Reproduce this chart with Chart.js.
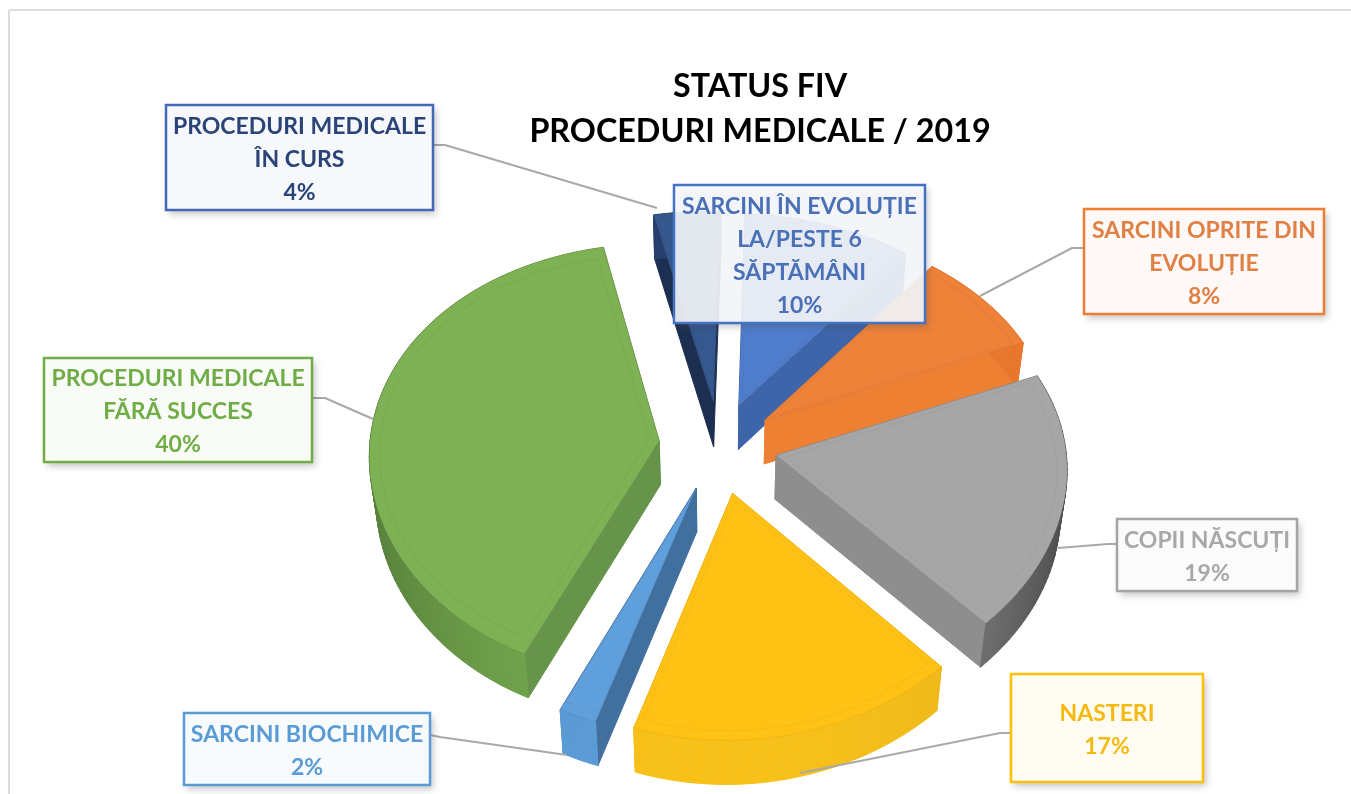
<!DOCTYPE html>
<html><head><meta charset="utf-8">
<style>html,body{margin:0;padding:0;background:#fff;overflow:hidden}
#wrap{position:absolute;left:0;top:0;width:1351px;height:794px;overflow:hidden}
#frame{position:absolute;left:8px;top:9px;width:1400px;height:850px;border:2px solid #dcdcdc;border-radius:3px;box-sizing:border-box}
canvas{position:absolute;left:0;top:0}</style>
<script src="https://cdn.jsdelivr.net/npm/chart.js@4/dist/chart.umd.min.js"></script>
</head><body><div id="wrap"><div id="frame"></div><canvas id="c" width="1351" height="794"></canvas></div>
<script>
const categories = ["SARCINI ÎN EVOLUȚIE LA/PESTE 6 SĂPTĂMÂNI","SARCINI OPRITE DIN EVOLUȚIE","COPII NĂSCUȚI","NASTERI","SARCINI BIOCHIMICE","PROCEDURI MEDICALE FĂRĂ SUCCES","PROCEDURI MEDICALE ÎN CURS"];
const values = [10,8,19,17,2,40,4];
const titleLines = ["STATUS FIV","PROCEDURI MEDICALE / 2019"];
const labelLines = [["SARCINI ÎN EVOLUȚIE","LA/PESTE 6","SĂPTĂMÂNI"],["SARCINI OPRITE DIN","EVOLUȚIE"],["COPII NĂSCUȚI"],["NASTERI"],["SARCINI BIOCHIMICE"],["PROCEDURI MEDICALE","FĂRĂ SUCCES"],["PROCEDURI MEDICALE","ÎN CURS"]];
const explode = [52,52,52,56,52,52,52];
const topColors = ["#4f7dcc","#ee8239","#a6a6a6","#ffc114","#5f9fdb","#7db154","#35588f"];
const cutColors = ["#3e65aa","#ee8034","#8e8e8e","#f4bb18","#41709f","#66944a","#1d2f50"];
const rimLight  = ["#4168b2","#ed7d31","#8f8f8f","#f8c119","#5b9bd5","#74a84d","#27406e"];
const rimDark   = ["#3a5ea0","#e6762c","#4c4c4c","#e6b31c","#5b9bd5","#567f3a","#1d2f50"];
const borderColors = ["#4472c4","#ed7d31","#a5a5a5","#ffc000","#5b9bd5","#70ad47","#4468b8"];
const textColors = ["#4a70b8","#e08044","#a8a8a8","#f5b90f","#5b9bd5","#70ad47","#2a4477"];
// layout: [left, top, right, bottom] of each callout and the leader-line path
const boxes = [[674,185,925,323],[1084,209,1324,314],[1117,519,1297,591],[1011,674,1203,782],[184,713,430,785],[44,358,312,462],[166,105,433,210]];
const leaders = [null,[[1084,248],[1072,248],[980,296]],[[1117,544],[1108,544],[1058,548]],[[1011,733],[1000,733],[800,773]],[[430,735],[440,737],[567,755]],[[312,398],[325,398],[373,419]],[[433,145],[445,145],[657,208]]];
const view = {a:1.14, d:0.85, gx:-0.06, gy:-0.09, skew:5, depth:44, taper:0.02};

const pie3d = {
  id:'pie3d',
  afterLayout(chart){ const t=chart.titleBlock; t.left=170; t.right=1350; },
  beforeDatasetDraw(chart,args){
    const ctx=chart.ctx, meta=chart.getDatasetMeta(args.index), arcs=meta.data;
    const R0=arcs[0].outerRadius, cx=arcs[0].x, cy=arcs[0].y;
    const P=(dx,dy,z)=>{const n=dy/R0; return [cx+(1-z*view.taper)*view.a*dx/(1+view.gx*n)-view.skew*n*n, cy+view.d*dy/(1+view.gy*n)+z*view.depth];};
    const order=arcs.map((a,i)=>({a,i,m:Math.sin((a.startAngle+a.endAngle)/2)})).sort((p,q)=>p.m-q.m);
    const fill=(pts,col,stroke)=>{ctx.beginPath();pts.forEach((p,i)=>i?ctx.lineTo(p[0],p[1]):ctx.moveTo(p[0],p[1]));ctx.closePath();ctx.fillStyle=col;ctx.fill();ctx.strokeStyle=stroke||col;ctx.lineWidth=1;ctx.stroke();};
    const mix=(c1,c2,t)=>{const h=c=>[1,3,5].map(k=>parseInt(c.substr(k,2),16));const A=h(c1),B=h(c2);return 'rgb('+A.map((v,k)=>Math.round(v+(B[k]-v)*t)).join(',')+')';};
    order.forEach(({a,i})=>{
      const mid=(a.startAngle+a.endAngle)/2, off=a.options.offset, R=a.outerRadius;
      const ox=Math.cos(mid)*off, oy=Math.sin(mid)*off, n=Math.max(12,Math.round((a.endAngle-a.startAngle)*40));
      const rim=[];for(let k=0;k<=n;k++){const t=a.startAngle+(a.endAngle-a.startAngle)*k/n;rim.push([ox+R*Math.cos(t),oy+R*Math.sin(t),t]);}
      const s=rim[0], e=rim[n];
      fill([P(ox,oy,0),P(s[0],s[1],0),P(s[0],s[1],1),P(ox,oy,1)],cutColors[i]);
      fill([P(ox,oy,0),P(e[0],e[1],0),P(e[0],e[1],1),P(ox,oy,1)],cutColors[i]);
      for(let k=0;k<n;k++){
        const A=rim[k],B=rim[k+1],col=mix(rimLight[i],rimDark[i],Math.pow(Math.abs(Math.cos(A[2])),2));
        fill([P(A[0],A[1],0),P(B[0],B[1],0),P(B[0],B[1],1),P(A[0],A[1],1)],col);
      }
      const face=[P(ox,oy,0)].concat(rim.map(p=>P(p[0],p[1],0)));
      fill(face,a.options.backgroundColor,'rgba(0,0,0,0.06)');
      const ins=0.93, inx=ox+(Math.cos(mid))*R*0.035, iny=oy+(Math.sin(mid))*R*0.035;
      ctx.beginPath();rim.forEach((p,k)=>{const q=P(inx+(p[0]-ox)*ins,iny+(p[1]-oy)*ins,0);k?ctx.lineTo(q[0],q[1]):ctx.moveTo(q[0],q[1]);});
      const q0=P(inx,iny,0);ctx.lineTo(q0[0],q0[1]);ctx.closePath();ctx.strokeStyle='rgba(0,0,0,0.02)';ctx.lineWidth=2;ctx.stroke();
    });
    return false;
  },
  afterDatasetsDraw(chart){
    const ctx=chart.ctx;
    ctx.save();ctx.strokeStyle='#a9a9a9';ctx.lineWidth=2;ctx.lineJoin='round';
    leaders.forEach(l=>{if(!l)return;ctx.beginPath();l.forEach((p,i)=>i?ctx.lineTo(p[0],p[1]):ctx.moveTo(p[0],p[1]));ctx.stroke();});
    ctx.restore();
    boxes.forEach((b,i)=>{
      const [x0,y0,x1,y1]=b;
      ctx.save();
      ctx.shadowColor='rgba(70,70,70,0.32)';ctx.shadowBlur=7;ctx.shadowOffsetX=3;ctx.shadowOffsetY=4;
      ctx.fillStyle=i===0?'rgba(255,255,255,0.9)':'#fff';
      ctx.fillRect(x0,y0,x1-x0,y1-y0);
      ctx.shadowColor='transparent';
      ctx.globalAlpha=0.045;ctx.fillStyle=borderColors[i];ctx.fillRect(x0,y0,x1-x0,y1-y0);ctx.globalAlpha=1;
      ctx.strokeStyle=borderColors[i];ctx.lineWidth=2.5;ctx.strokeRect(x0,y0,x1-x0,y1-y0);
      const lines=labelLines[i].concat([values[i]+'%']);
      ctx.fillStyle=textColors[i];ctx.font='700 23px Lato';ctx.textAlign='center';ctx.textBaseline='middle';
      const lh=33, mx=(x0+x1)/2, my=(y0+y1)/2+2;
      lines.forEach((t,k)=>ctx.fillText(t,mx,my+(k-(lines.length-1)/2)*lh));
      ctx.restore();
    });
  }
};

new Chart(document.getElementById('c'),{
  type:'pie',
  data:{labels:categories,datasets:[{data:values,backgroundColor:topColors,borderWidth:0,offset:explode,rotation:3}]},
  plugins:[pie3d],
  options:{
    responsive:false,animation:false,
    layout:{padding:{left:85,right:0,top:64,bottom:66}},
    plugins:{legend:{display:false},tooltip:{enabled:false},
      title:{display:true,text:titleLines,color:'#000',font:{family:'Lato',weight:'700',size:32.3,lineHeight:1.393},padding:{top:0,bottom:10}}}
  }
});
</script></body></html>
